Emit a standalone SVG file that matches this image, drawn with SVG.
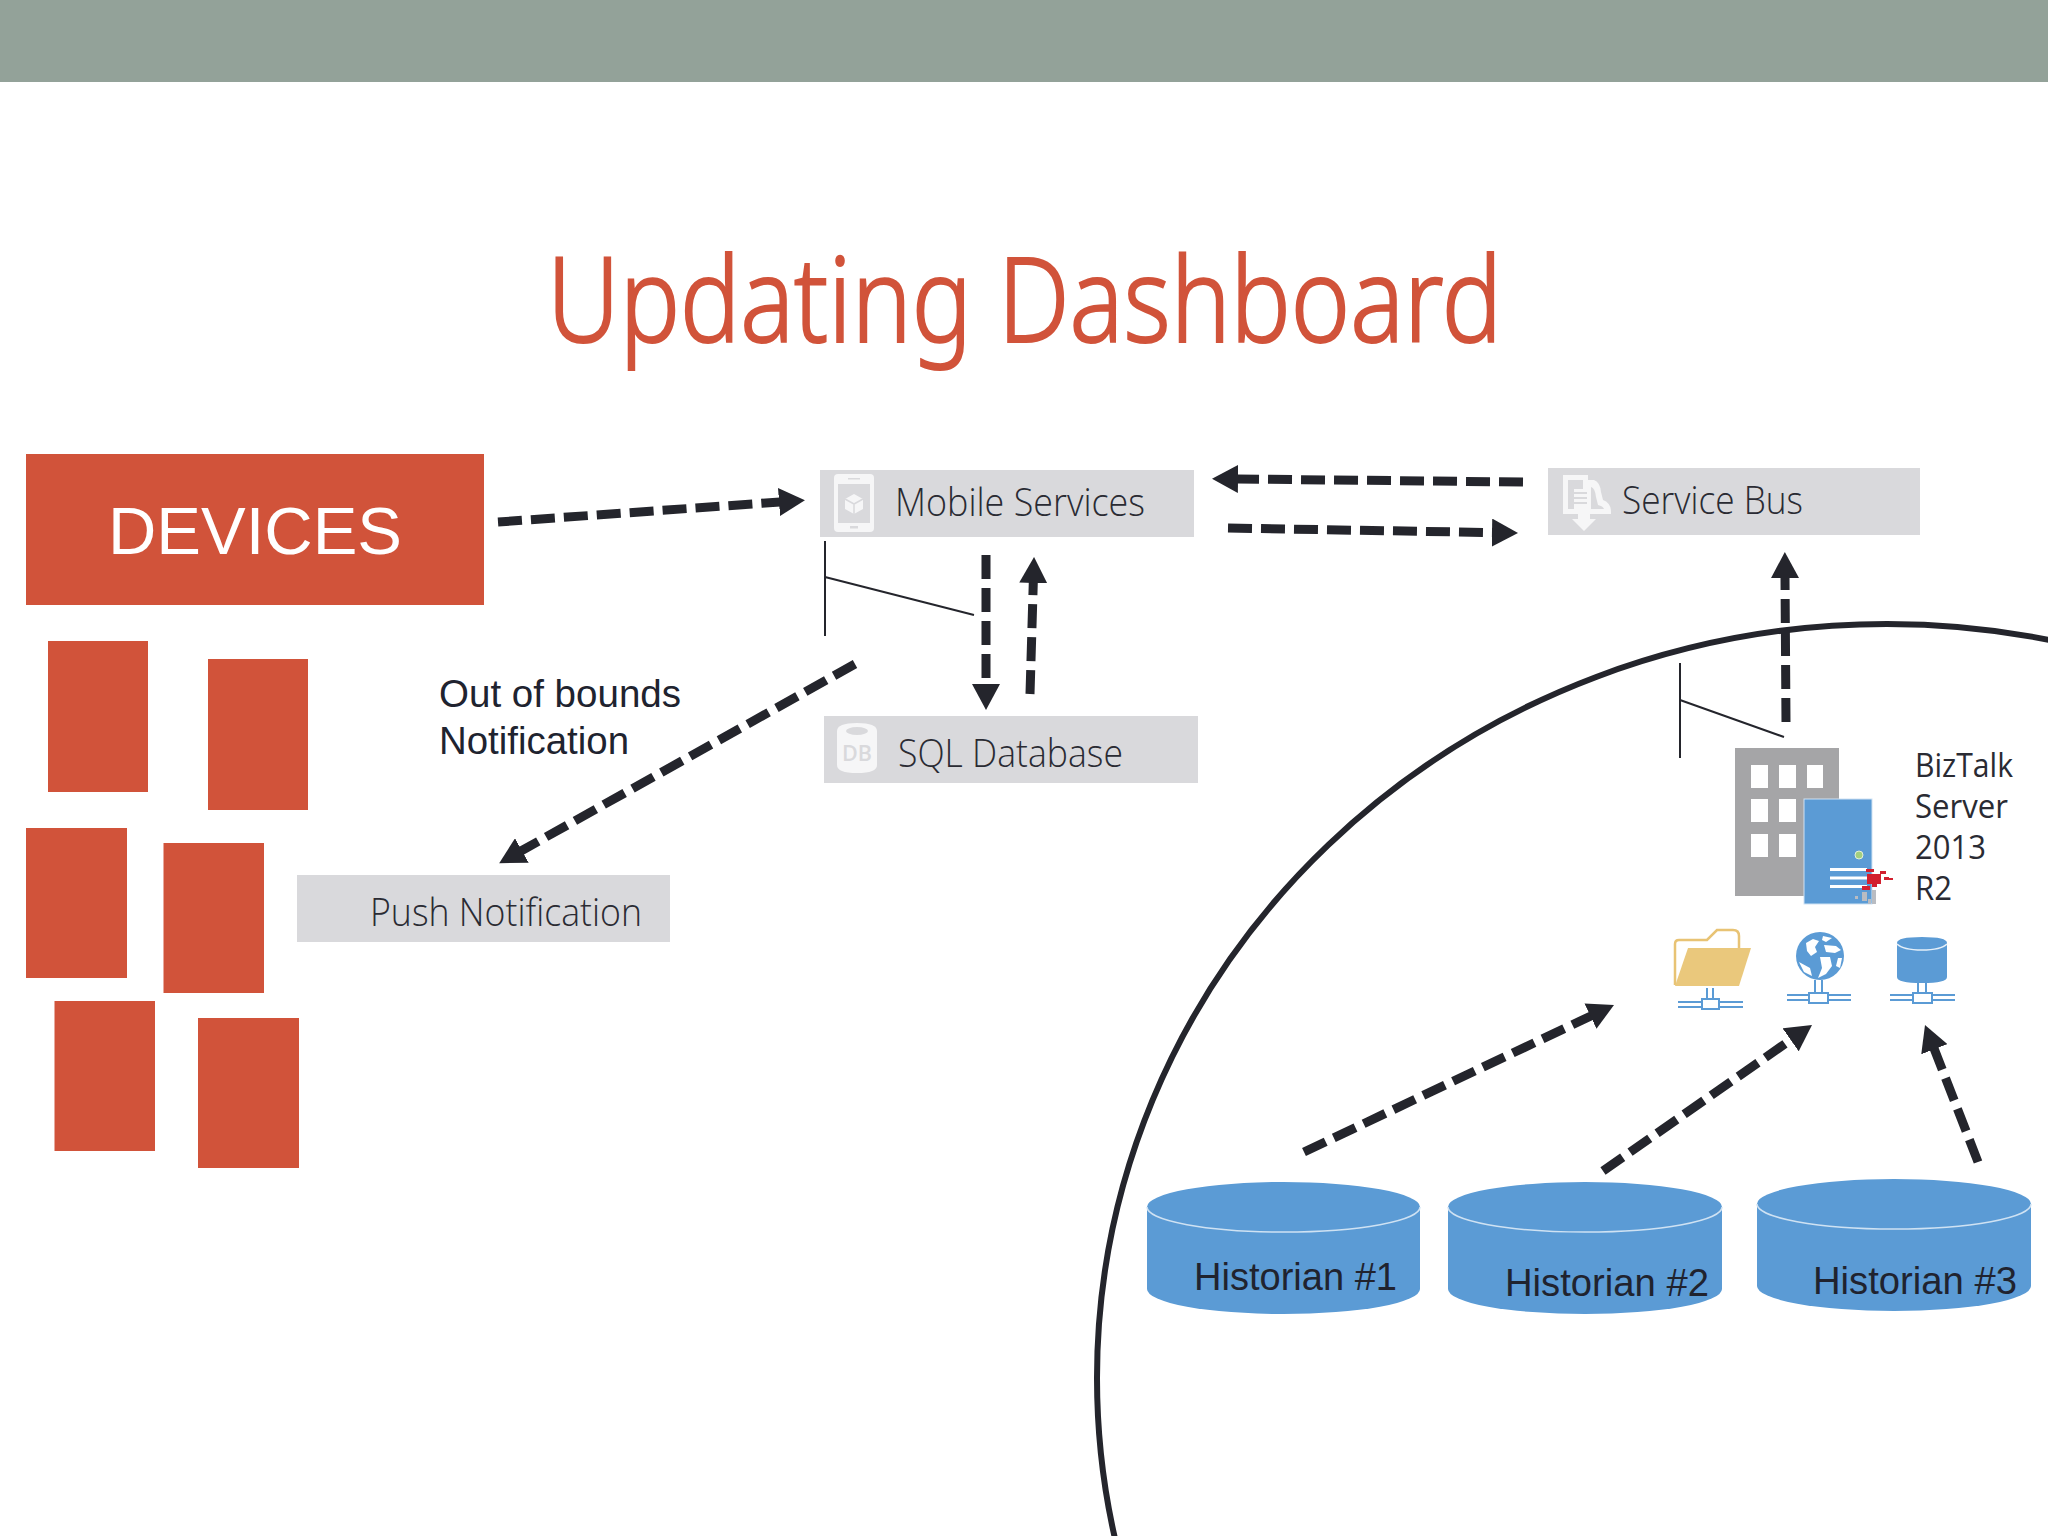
<svg xmlns="http://www.w3.org/2000/svg" width="2048" height="1536" viewBox="0 0 2048 1536">
<style>
.red{fill:#d1533a}
.box{fill:#d9d9dc}
.lt{font-family:"Open Sans","Noto Sans",sans-serif;font-weight:300;fill:#2a2b33;font-size:39px}
.ar{font-family:"Liberation Sans",Arial,sans-serif;fill:#20232f;font-size:38px}
.seg{font-family:"Open Sans","Noto Sans",sans-serif;fill:#2a2b33;font-size:32px}
.dash{fill:none;stroke:#24252c;stroke-width:9;stroke-dasharray:24 9;marker-end:url(#head)}
.thin{fill:none;stroke:#24252c;stroke-width:2}
.cyl{fill:#5b9bd5}
.rim{fill:none;stroke:#cfe2f3;stroke-width:1.5}
.net{fill:none;stroke:#5b9bd5;stroke-width:2}
.netb{fill:#fff;stroke:#5b9bd5;stroke-width:2}
.w{fill:#fff}
.ic{fill:#f6f6f7}
</style>
<defs>
<marker id="head" markerUnits="userSpaceOnUse" markerWidth="27" markerHeight="28" refX="1" refY="14" orient="auto" viewBox="0 0 27 28"><path d="M0,0 L26,14 L0,28 Z" fill="#24252c"/></marker>
</defs>
<rect width="2048" height="1536" fill="#fff"/>
<rect id="band" width="2048" height="82" fill="#93a299"/>
<text id="title" x="547" y="342" font-family="'Noto Sans','Open Sans',sans-serif" font-weight="300" font-size="118" fill="#d1533a" stroke="#d1533a" stroke-width="2" textLength="955" lengthAdjust="spacingAndGlyphs">Updating Dashboard</text>

<ellipse id="boundary" cx="1887" cy="1378" rx="790" ry="754" fill="none" stroke="#24252c" stroke-width="6"/>

<g id="devices"><rect class="red" x="26" y="454" width="458" height="151"/>
<text x="108" y="554" font-family="'Liberation Sans',Arial,sans-serif" font-size="66" fill="#fff" textLength="294" lengthAdjust="spacingAndGlyphs">DEVICES</text></g>
<g id="device-1"><rect class="red" x="48" y="641" width="100" height="151"/></g>
<g id="device-2"><rect class="red" x="208" y="659" width="100" height="151"/></g>
<g id="device-3"><rect class="red" x="26" y="828" width="101" height="150"/></g>
<g id="device-4"><rect class="red" x="163.500" y="843" width="100.500" height="150"/></g>
<g id="device-5"><rect class="red" x="54.500" y="1001" width="100.500" height="150"/></g>
<g id="device-6"><rect class="red" x="198" y="1018" width="101" height="150"/></g>

<g id="mobile-services"><rect class="box" x="820" y="470" width="374" height="67"/>
<rect class="ic" x="834" y="474" width="40" height="58" rx="4"/><rect class="box" x="838" y="484" width="32" height="39"/>
<path class="ic" d="M854,494 L863,499 V509 L854,514 L845,509 V499 Z"/>
<path class="box" d="M854,504 L863,499 M854,504 L845,499 M854,504 V514" stroke="#d9d9dc" stroke-width="1.500" fill="none"/>
<rect class="box" x="850" y="526" width="8" height="2.5"/><rect class="box" x="848" y="478" width="12" height="1.5"/>
<text class="lt" x="895" y="516" textLength="250" lengthAdjust="spacingAndGlyphs">Mobile Services</text></g>

<g id="service-bus"><rect class="box" x="1548" y="468" width="372" height="67"/>
<path class="ic" d="M1563,475 H1588 V480 H1594 Q1600,482 1601,492 L1603,500 Q1611,503 1611,512 V514 H1590 V519 H1596 L1584,531 L1572,519 H1578 V514 H1563 Z"/>
<path class="box" d="M1568,480 H1583 V489 H1574 V509 H1568 Z M1591,487 Q1595,488 1596,497 L1598,505 Q1603,506 1604,509 H1591 Z"/>
<path class="box" d="M1574,492 H1587 V494 H1574 Z M1574,497 H1587 V499 H1574 Z M1574,502 H1587 V504 H1574 Z"/>
<text class="lt" x="1622" y="514" textLength="181" lengthAdjust="spacingAndGlyphs">Service Bus</text></g>

<g id="sql-database"><rect class="box" x="824" y="716" width="374" height="67"/>
<path class="ic" d="M837,731 Q837,723 857,723 Q877,723 877,731 V765 Q877,773 857,773 Q837,773 837,765 Z"/>
<ellipse class="box" cx="857" cy="731" rx="11" ry="4"/>
<text x="842" y="761" font-family="'Open Sans','Noto Sans',sans-serif" font-size="21" font-weight="600" fill="#d9d9dc" textLength="30" lengthAdjust="spacingAndGlyphs">DB</text>
<text class="lt" x="898" y="767" textLength="225" lengthAdjust="spacingAndGlyphs">SQL Database</text></g>

<g id="push-notification"><rect class="box" x="297" y="875" width="373" height="67"/>
<text class="lt" x="370" y="926" textLength="272" lengthAdjust="spacingAndGlyphs">Push Notification</text></g>

<g id="note"><text class="ar" x="439" y="707" textLength="242" lengthAdjust="spacingAndGlyphs">Out of bounds</text>
<text class="ar" x="439" y="754" textLength="190" lengthAdjust="spacingAndGlyphs">Notification</text></g>

<g id="biztalk">
<rect x="1735" y="748" width="104" height="148" fill="#a5a5a7"/>
<path class="w" d="M1751,765h17v23h-17z M1779,765h17v23h-17z M1807,765h16v23h-16z M1751,799h17v23h-17z M1779,799h17v23h-17z M1751,834h17v23h-17z M1779,834h17v23h-17z"/>
<rect x="1804" y="799" width="68" height="105" fill="#5b9bd5" stroke="#cfe2f3" stroke-width="1"/>
<circle cx="1859" cy="855" r="4" fill="#a3cf7f" stroke="#e4f0da"/>
<path class="w" d="M1830,868h37v3h-37z M1830,876.500h37v3h-37z M1830,885h37v3h-37z"/>
<path fill="#d2202f" d="M1866,869h8v3h-8z M1867,874h14v10h-14z M1880,871h6v3h-6z M1884,877h5v3h-5z M1889,878h4v2h-4z M1862,886h8v4h-8z M1872,884h5v3h-5z"/>
<path fill="#b9bcc2" d="M1855,896h3v3h-3z M1862,892h5v9h-5z M1872,890h4v14h-4z M1868,899h3v5h-3z"/>
<text class="seg" x="1915" y="777" textLength="98" lengthAdjust="spacingAndGlyphs">BizTalk</text>
<text class="seg" x="1915" y="818" textLength="93" lengthAdjust="spacingAndGlyphs">Server</text>
<text class="seg" x="1915" y="859" textLength="71" lengthAdjust="spacingAndGlyphs">2013</text>
<text class="seg" x="1915" y="900" textLength="37" lengthAdjust="spacingAndGlyphs">R2</text>
</g>

<g id="folder-share">
<path d="M1675,985 V944 Q1675,940 1679,940 H1707 L1717,930 H1733 Q1739,930 1739,936 V948" fill="none" stroke="#e8c374" stroke-width="2.500"/>
<path d="M1688,948 H1751 L1739,986 H1675 Z" fill="#eac87c"/>
<path class="net" d="M1707,988V999 M1713,988V999 M1678,1002H1702 M1678,1007H1702 M1719,1002H1743 M1719,1007H1743"/>
<rect class="netb" x="1702" y="999" width="17" height="10"/>
</g>
<g id="web-share">
<circle cx="1820" cy="956" r="24" fill="#5b9bd5"/>
<path class="w" d="M1806,943 L1813,939 L1819,941 L1815,947 L1817,952 L1811,956 L1807,951 Z M1823,936 L1832,938 L1826,942 L1822,940 Z M1824,945 L1836,946 L1841,950 L1835,953 L1826,952 Z M1820,957 L1830,957 L1832,966 L1826,974 L1818,978 L1822,968 Z M1838,958 L1842,958 L1840,968 L1836,966 Z M1799,962 L1810,968 L1812,976 L1804,972 Z"/>
<path class="net" d="M1815,980V993 M1822,980V993 M1787,995H1809 M1787,1000H1809 M1828,995H1851 M1828,1000H1851"/>
<rect class="netb" x="1809" y="993" width="19" height="10"/>
</g>
<g id="db-share">
<path class="cyl" d="M1897,943 Q1897,937 1922,937 Q1947,937 1947,943 V977 Q1947,983 1922,983 Q1897,983 1897,977 Z"/>
<path d="M1897,944 Q1903,950 1922,950 Q1941,950 1947,944" fill="none" stroke="#e4eff9" stroke-width="1.500"/>
<path class="net" d="M1918,983V993 M1926,983V993 M1890,995H1913 M1890,1000H1913 M1932,995H1955 M1932,1000H1955"/>
<rect class="netb" x="1913" y="993" width="19" height="10"/>
</g>

<g id="historian-1">
<path class="cyl" d="M1147,1207 A136.500,25 0 0 1 1420,1207 V1289 A136.500,25 0 0 1 1147,1289 Z"/>
<path class="rim" d="M1147,1207 A136.500,25 0 0 0 1420,1207"/>
<text class="ar" x="1194" y="1290" textLength="203" lengthAdjust="spacingAndGlyphs">Historian #1</text></g>
<g id="historian-2">
<path class="cyl" d="M1448,1207 A137,25 0 0 1 1722,1207 V1289 A137,25 0 0 1 1448,1289 Z"/>
<path class="rim" d="M1448,1207 A137,25 0 0 0 1722,1207"/>
<text class="ar" x="1505" y="1296" textLength="204" lengthAdjust="spacingAndGlyphs">Historian #2</text></g>
<g id="historian-3">
<path class="cyl" d="M1757,1204 A137,25 0 0 1 2031,1204 V1286 A137,25 0 0 1 1757,1286 Z"/>
<path class="rim" d="M1757,1204 A137,25 0 0 0 2031,1204"/>
<text class="ar" x="1813" y="1294" textLength="204" lengthAdjust="spacingAndGlyphs">Historian #3</text></g>

<g id="connectors">
<path class="dash" d="M498,522 L780,502"/>
<path class="dash" d="M1523,482 L1237,479"/>
<path class="dash" d="M1228,528 L1493,532.600"/>
<path class="dash" d="M986,555 L986,685"/>
<path class="dash" d="M1030,694 L1033.300,582"/>
<path class="dash" d="M1786,722 L1785,577"/>
<path class="dash" d="M855,664 L521,851"/>
<path class="dash" d="M1304,1152 L1591.400,1015.700"/>
<path class="dash" d="M1603,1171 L1791.500,1039.300"/>
<path class="dash" d="M1978,1162 L1934,1048.300"/>
<path class="thin" d="M825,541 V636 M825,577 L974,615"/>
<path class="thin" d="M1680,663 V758 M1680,700 L1784,737"/>
</g>
</svg>
